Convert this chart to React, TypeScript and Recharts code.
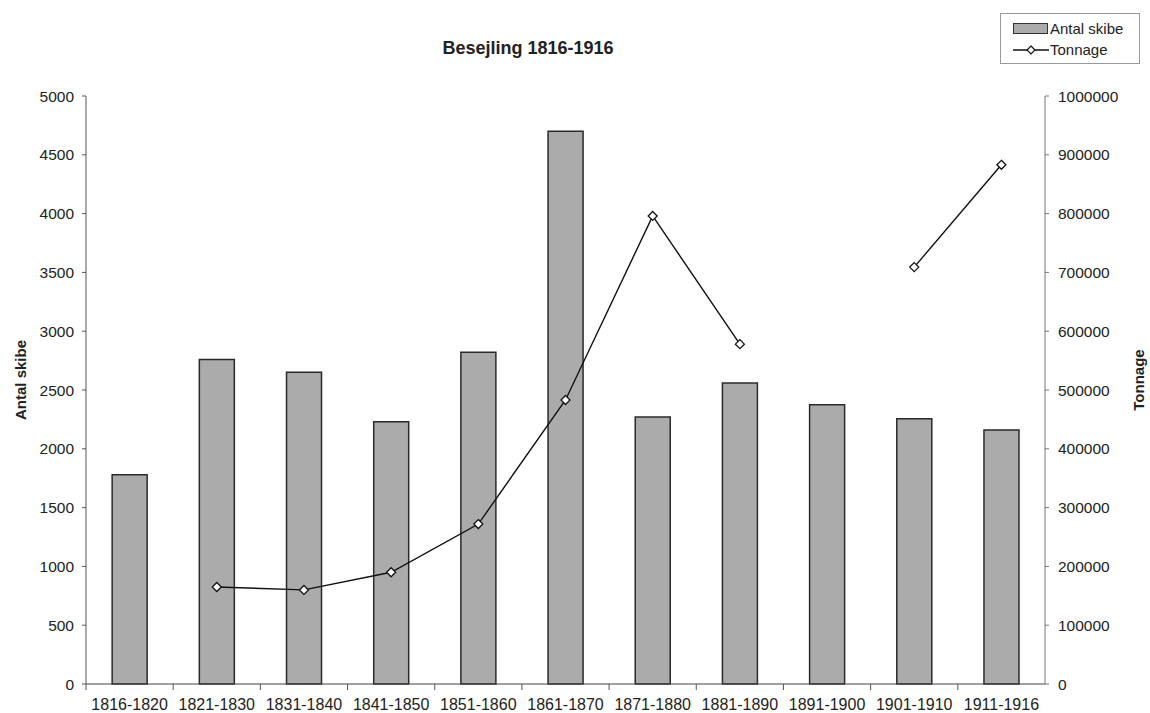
import React from 'react';
import { ComposedChart, Bar, Line, XAxis, YAxis } from 'recharts';

const categories = ['1816-1820', '1821-1830', '1831-1840', '1841-1850', '1851-1860', '1861-1870', '1871-1880', '1881-1890', '1891-1900', '1901-1910', '1911-1916'];
const antalSkibe = [1780, 2760, 2650, 2230, 2820, 4700, 2270, 2560, 2375, 2255, 2160];
const tonnage: (number | null)[] = [null, 165000, 160000, 190000, 272000, 483000, 796000, 578000, null, 709000, 883000];
const leftTicks = [0, 500, 1000, 1500, 2000, 2500, 3000, 3500, 4000, 4500, 5000];
const rightTicks = [0, 100000, 200000, 300000, 400000, 500000, 600000, 700000, 800000, 900000, 1000000];

const data = categories.map((c, i) => ({ name: c, skibe: antalSkibe[i], tonnage: tonnage[i] }));

const W = 1150;
const H = 713;
const LEFT_W = 86;
const RIGHT_W = 105;
const FONT = '"Liberation Sans", Arial, sans-serif';
const BAND = (W - LEFT_W - RIGHT_W) / categories.length;

const Diamond = (props: any) => {
  const { cx, cy, value } = props;
  if (value == null || cx == null || cy == null) return null;
  const r = 4.5;
  return (
    <path
      d={`M${cx},${cy - r}L${cx + r},${cy}L${cx},${cy + r}L${cx - r},${cy}Z`}
      fill="#fff"
      stroke="#111"
      strokeWidth={1.3}
    />
  );
};

const XTick = (props: any) => {
  const { x, payload } = props;
  const left = x - BAND / 2;
  return (
    <g>
      <line x1={left} y1={684} x2={left} y2={690} stroke="#555" strokeWidth={1} />
      <text x={x} y={H - 3} textAnchor="middle" fontSize={16} fontFamily={FONT} fill="#222">
        {payload.value}
      </text>
    </g>
  );
};

const LegendBox = () => (
  <div
    style={{
      position: 'absolute',
      left: 1000,
      top: 13,
      width: 140,
      height: 51,
      border: '1px solid #999',
      background: '#fff',
      fontFamily: FONT,
      fontSize: 15,
      color: '#222',
      boxSizing: 'border-box',
      padding: '4px 0 0 12px',
    }}
  >
    <div style={{ display: 'flex', alignItems: 'center', height: 21 }}>
      <span style={{ display: 'inline-block', width: 33, height: 9, background: '#ababab', border: '1px solid #333', marginRight: 2 }} />
      <span>Antal skibe</span>
    </div>
    <div style={{ display: 'flex', alignItems: 'center', height: 21 }}>
      <svg width={36} height={12} style={{ marginRight: 1 }}>
        <line x1={0} y1={6} x2={36} y2={6} stroke="#111" strokeWidth={1.3} />
        <path d="M18,2L22,6L18,10L14,6Z" fill="#fff" stroke="#111" strokeWidth={1.2} />
      </svg>
      <span>Tonnage</span>
    </div>
  </div>
);

export default function App() {
  return (
    <div style={{ position: 'absolute', left: 0, top: 0, width: W, height: H, background: '#fff' }}>
      <div
        style={{
          position: 'absolute',
          left: 328,
          width: 400,
          top: 38,
          textAlign: 'center',
          fontFamily: FONT,
          fontWeight: 'bold',
          fontSize: 18,
          color: '#222',
        }}
      >
        Besejling 1816-1916
      </div>
      <div
        style={{
          position: 'absolute',
          left: 20,
          top: 380,
          transform: 'translate(-50%, -50%) rotate(-90deg)',
          fontFamily: FONT,
          fontWeight: 'bold',
          fontSize: 15,
          color: '#222',
          whiteSpace: 'nowrap',
        }}
      >
        Antal skibe
      </div>
      <div
        style={{
          position: 'absolute',
          left: 1138,
          top: 380,
          transform: 'translate(-50%, -50%) rotate(-90deg)',
          fontFamily: FONT,
          fontWeight: 'bold',
          fontSize: 15,
          color: '#222',
          whiteSpace: 'nowrap',
        }}
      >
        Tonnage
      </div>
      <ComposedChart
        width={W}
        height={H}
        data={data}
        margin={{ top: 96, right: 0, bottom: 0, left: 0 }}
        barCategoryGap="30%"
      >
        <XAxis
          dataKey="name"
          height={29}
          tickLine={false}
          axisLine={{ stroke: '#444', strokeWidth: 1 }}
          tick={<XTick />}
          interval={0}
        />
        <YAxis
          yAxisId="left"
          orientation="left"
          width={LEFT_W}
          domain={[0, 5000]}
          ticks={leftTicks}
          interval={0}
          tickSize={4}
          tickLine={{ stroke: '#555' }}
          axisLine={{ stroke: '#555' }}
          tick={{ fontSize: 15.5, fontFamily: FONT, fill: '#222' }}
          tickMargin={8}
        />
        <YAxis
          yAxisId="right"
          orientation="right"
          width={RIGHT_W}
          domain={[0, 1000000]}
          ticks={rightTicks}
          interval={0}
          tickSize={4}
          tickLine={{ stroke: '#777' }}
          axisLine={{ stroke: '#777' }}
          tick={{ fontSize: 15.5, fontFamily: FONT, fill: '#222' }}
          tickMargin={9}
        />
        <Bar
          yAxisId="left"
          dataKey="skibe"
          name="Antal skibe"
          fill="#ababab"
          stroke="#2a2a2a"
          strokeWidth={1.5}
          isAnimationActive={false}
        />
        <Line
          yAxisId="right"
          dataKey="tonnage"
          name="Tonnage"
          stroke="#111"
          strokeWidth={1.4}
          dot={<Diamond />}
          activeDot={false}
          connectNulls={false}
          isAnimationActive={false}
        />
      </ComposedChart>
      <LegendBox />
    </div>
  );
}
